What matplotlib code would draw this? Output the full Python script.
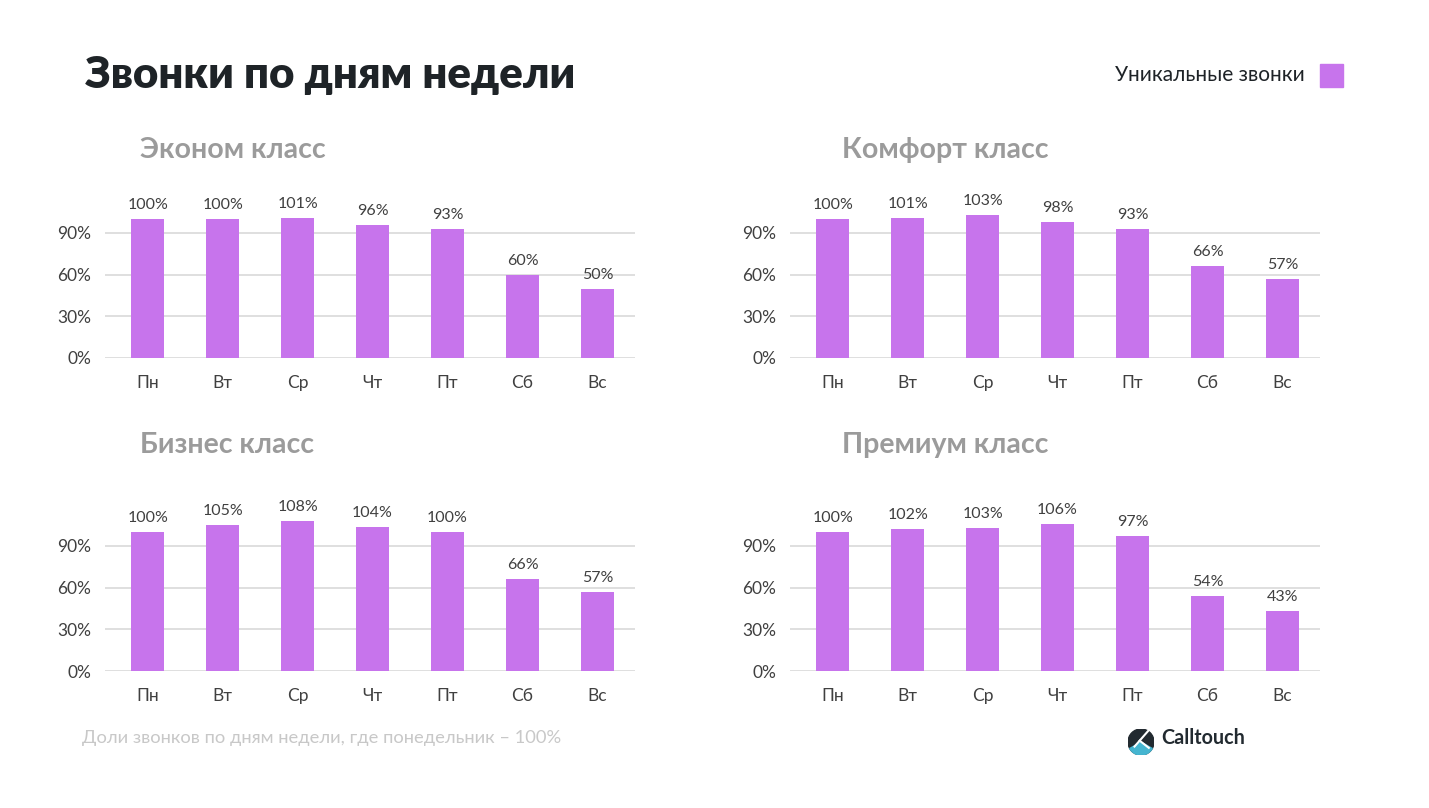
import matplotlib.pyplot as plt
from matplotlib.patches import Rectangle, Circle, Wedge

plt.rcParams['font.family'] = ['Lato', 'DejaVu Sans']

days = ['Пн', 'Вт', 'Ср', 'Чт', 'Пт', 'Сб', 'Вс']
econom = [100, 100, 101, 96, 93, 60, 50]
comfort = [100, 101, 103, 98, 93, 66, 57]
business = [100, 105, 108, 104, 100, 66, 57]
premium = [100, 102, 103, 106, 97, 54, 43]
y_ticks = [0, 30, 60, 90]

bar_color = '#c774ec'
text_color = '#404040'
grid_color = '#d9d9d9'

fig = plt.figure(figsize=(14.29, 8.08), dpi=100)
fig.patch.set_facecolor('white')

W, H = 1429, 808


def draw_panel(left_px, zero_px, title, title_x, title_y, values):
    # axis geometry in pixels of the reference
    scale = 125 / 90  # px per percent
    top = 120
    ax = fig.add_axes([left_px / W, (H - zero_px) / H,
                       530 / W, top * scale / H])
    x = range(len(days))
    ax.bar(x, values, width=0.44, color=bar_color, zorder=3)
    for i, v in enumerate(values):
        ax.annotate(f'{v}%', (i, v), xytext=(0, 5), textcoords='offset points',
                    ha='center', va='bottom', fontsize=11.5, color=text_color)
    ax.set_xlim(-0.57, 6.5)
    ax.set_ylim(0, top)
    ax.set_yticks(y_ticks)
    ax.set_yticklabels([f'{t}%' for t in y_ticks])
    ax.set_xticks(list(x))
    ax.set_xticklabels(days)
    ax.yaxis.grid(True, color=grid_color, linewidth=1.2, zorder=0)
    for s in ax.spines.values():
        s.set_visible(False)
    ax.tick_params(axis='both', length=0, labelsize=12.5, colors=text_color)
    ax.tick_params(axis='x', pad=12)
    ax.tick_params(axis='y', pad=10)
    fig.text(title_x / W, 1 - title_y / H, title,
             fontsize=20.5, fontweight='bold', color='#9b9b9b', va='center')


draw_panel(105, 358, 'Эконом класс', 140, 150, econom)
draw_panel(790, 358, 'Комфорт класс', 842, 150, comfort)
draw_panel(105, 671, 'Бизнес класс', 140, 445, business)
draw_panel(790, 671, 'Премиум класс', 842, 445, premium)

# main title
fig.text(85 / W, 1 - 75 / H, 'Звонки по дням недели', fontsize=31.5,
         fontweight='heavy', color='#1e2327', va='center')

# legend
fig.text(1305 / W, 1 - 75 / H, 'Уникальные звонки', fontsize=15,
         color='#1e2327', va='center', ha='right')
fig.patches.append(Rectangle((1320 / W, 1 - 87 / H), 23 / W, 23 / H,
                             transform=fig.transFigure, color=bar_color))

# footnote
fig.text(82 / W, 1 - 738 / H, 'Доли звонков по дням недели, где понедельник – 100%',
         fontsize=13.2, color='#c8c8c8', va='center')

# Calltouch logo
logo = fig.add_axes([1128 / W, 1 - 755 / H, 26 / W, 26 / H])
logo.set_aspect('equal')
logo.axis('off')
logo.set_xlim(-1, 1)
logo.set_ylim(-1, 1)
logo.add_patch(Circle((0, 0), 1, color='#222a30'))
logo.add_patch(Wedge((0, 0), 1, 210, 330, color='#45b5d0'))
logo.plot([-0.5, 0.55], [-0.35, 0.85], color='white', lw=1.5)
logo.plot([-0.1, 0.6], [0.1, -0.45], color='white', lw=1.5)
fig.text(1161 / W, 1 - 738 / H, 'Calltouch', fontsize=14.2, fontweight='bold',
         color='#222a30', va='center')

fig.savefig('out.png', dpi=100)
